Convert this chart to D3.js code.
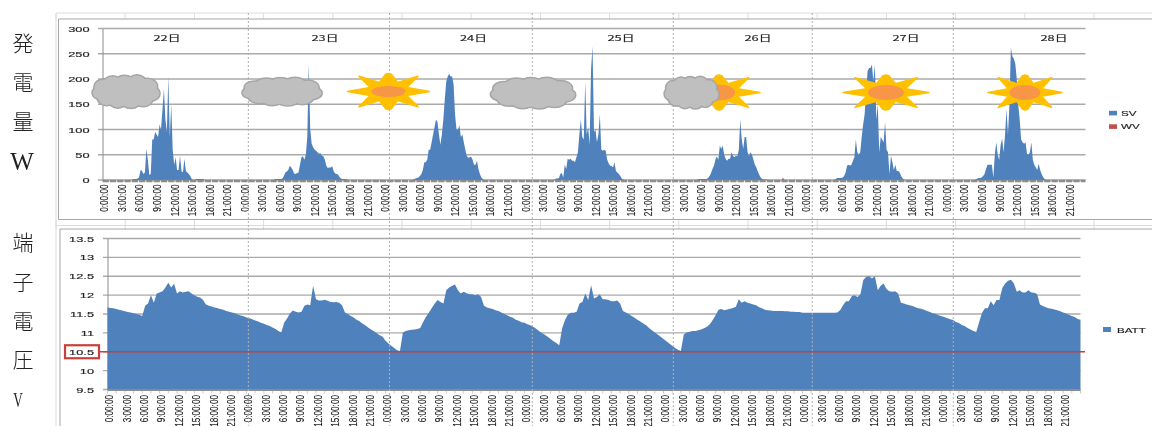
<!DOCTYPE html>
<html>
<head>
<meta charset="utf-8">
<script src="https://cdn.jsdelivr.net/npm/d3@7"></script>
<style>
  html, body { margin: 0; padding: 0; background: #fff; }
  svg { display: block; }
  text { font-family: "Liberation Sans", Arial, sans-serif; fill: #222; stroke: #222; stroke-width: 0.15px; }
  .side { font-family: "Noto Sans CJK JP", sans-serif; font-weight: 300; fill: #222; stroke: none; }
</style>
</head>
<body>
<div id="chart"></div>
<script>
// SV watts, one value every 15 minutes from 5:00 to 18:00, per day
var sv22 = [0,2,2,2,3,5,20,18,12,15,62,40,10,12,80,80,95,90,85,110,100,140,180,120,95,205,85,150,60,30,45,20,20,48,18,15,42,18,15,12,8,2,0,0,2,2,2,2,2,2,0,0,0];
var sv23 = [0,0,2,2,2,2,2,3,8,15,17,20,28,25,20,13,12,14,15,30,45,47,40,50,85,230,100,72,65,60,58,55,52,53,48,47,40,28,24,25,25,27,18,13,12,11,6,3,2,2,2,1,0];
var sv24 = [0,2,3,4,5,8,12,20,35,35,40,60,60,75,90,105,120,115,90,70,90,120,160,195,205,210,205,205,190,130,100,100,108,85,90,75,60,48,44,45,46,40,30,30,38,22,12,5,2,0,0,0,0];
var sv25 = [0,1,3,3,4,12,14,5,30,22,42,40,42,38,38,35,45,55,90,120,85,80,195,90,105,70,220,265,95,100,75,90,130,60,58,60,58,40,33,28,28,25,35,18,15,12,8,3,1,0,0,0,0];
var sv26 = [0,0,0,1,2,2,2,2,2,2,4,8,14,22,28,40,47,40,68,62,68,50,42,38,42,42,55,48,45,48,47,60,120,80,62,85,85,55,48,55,50,40,30,25,17,10,5,2,1,1,1,0,0];
var sv27 = [0,1,4,4,4,4,5,8,15,28,30,28,30,38,45,80,55,50,55,85,110,130,170,215,222,222,228,195,228,120,150,55,85,80,75,115,60,55,12,48,35,20,30,18,18,15,8,3,1,0,0,0,0];
var sv28 = [0,1,3,4,4,5,8,12,22,30,30,30,30,5,50,75,50,40,70,82,55,90,140,90,150,262,245,240,230,200,150,120,80,75,72,75,52,50,55,75,40,30,25,20,32,20,12,6,2,0,0,0,0];

// WV is almost always zero, only the few blips that show
var wvHours = [12.1, 57.7, 58.3, 59.5, 60.6, 62.1, 116.3];
var wvValues = [3, 3, 2, 3, 3, 3, 5];

// BATT volts, one value every 30 minutes, per day
var batt22 = [11.68,11.66,11.65,11.63,11.61,11.59,11.57,11.55,11.54,11.52,11.50,11.48,11.45,11.72,11.78,12.0,11.8,12.04,12.07,12.1,12.2,12.33,12.2,12.3,12.04,12.1,12.07,12.09,12.1,12.04,12.0,11.96,11.94,11.87,11.75,11.72,11.70,11.67,11.65,11.63,11.61,11.58,11.56,11.54,11.52,11.49,11.46,11.44];
var batt23 = [11.41,11.39,11.36,11.33,11.30,11.27,11.24,11.21,11.18,11.14,11.10,11.05,11.01,11.27,11.38,11.51,11.59,11.56,11.54,11.56,11.72,11.75,11.73,12.25,11.89,11.86,11.86,11.88,11.85,11.82,11.81,11.82,11.8,11.73,11.54,11.5,11.45,11.41,11.35,11.31,11.25,11.2,11.14,11.09,11.04,10.99,10.94,10.9];
var batt24 = [10.79,10.72,10.66,10.6,10.54,10.52,11.01,11.05,11.07,11.08,11.09,11.10,11.13,11.29,11.43,11.54,11.66,11.78,11.87,11.82,11.78,12.13,12.2,12.25,12.28,12.13,12.04,12.09,12.05,12.02,12.02,12.0,12.02,11.95,11.72,11.67,11.65,11.63,11.6,11.58,11.54,11.5,11.47,11.43,11.4,11.35,11.32,11.28];
var batt25 = [11.27,11.23,11.2,11.16,11.11,11.05,11.0,10.95,10.9,10.84,10.78,10.73,10.67,11.12,11.34,11.49,11.53,11.53,11.56,11.78,11.82,12.04,11.87,12.26,11.91,11.95,12.02,11.89,11.89,11.87,11.84,11.84,11.86,11.78,11.58,11.54,11.5,11.45,11.4,11.35,11.3,11.25,11.2,11.13,11.07,11.01,10.96,10.9];
var batt26 = [10.84,10.78,10.72,10.66,10.6,10.55,10.52,10.96,11.01,11.03,11.05,11.05,11.07,11.09,11.12,11.16,11.23,11.34,11.47,11.61,11.63,11.6,11.62,11.64,11.66,11.69,11.89,11.8,11.84,11.8,11.78,11.75,11.73,11.68,11.65,11.61,11.6,11.59,11.58,11.58,11.58,11.58,11.57,11.57,11.56,11.56,11.55,11.55];
var batt27 = [11.53,11.53,11.53,11.53,11.53,11.53,11.53,11.53,11.53,11.53,11.53,11.53,11.54,11.6,11.73,11.84,11.84,11.97,12.0,11.95,12.02,12.4,12.48,12.5,12.44,12.5,12.13,12.25,12.31,12.16,12.1,12.09,12.1,12.04,11.8,11.78,11.75,11.73,11.71,11.68,11.65,11.64,11.61,11.58,11.55,11.52,11.5,11.47];
var batt28 = [11.44,11.42,11.39,11.36,11.34,11.29,11.26,11.21,11.18,11.13,11.09,11.05,11.02,11.29,11.53,11.65,11.65,11.84,11.73,11.87,11.87,12.19,12.31,12.38,12.41,12.31,12.09,12.13,12.07,12.07,12.13,12.07,12.06,12.03,11.75,11.71,11.68,11.65,11.64,11.62,11.6,11.57,11.54,11.51,11.48,11.45,11.42,11.37,11.35];

var dayLabels = ["22日", "23日", "24日", "25日", "26日", "27日", "28日"];
var powerTicks = [0, 50, 100, 150, 200, 250, 300];
var voltTicks = [9.5, 10, 10.5, 11, 11.5, 12, 12.5, 13, 13.5];
var timeTicks = ["0:00:00", "3:00:00", "6:00:00", "9:00:00", "12:00:00", "15:00:00", "18:00:00", "21:00:00"];
var limitVolt = 10.5;
// hand drawn day separators, they don't sit exactly on midnight
var dayRuleHours = [24.93, 49.05, 73.45, 97.55, 121.3, 145.4];

var width = 1152, height = 426;
var blue = "#4f81bd", red = "#c0504d";

var svDays = [sv22, sv23, sv24, sv25, sv26, sv27, sv28];
var battDays = [batt22, batt23, batt24, batt25, batt26, batt27, batt28];

var svData = [];
svDays.forEach(function(vals, d) {
  vals.forEach(function(v, i) {
    svData.push({h: d * 24 + 5 + i * 0.25, v: v});
  });
});

var battData = [];
battDays.forEach(function(vals, d) {
  vals.forEach(function(v, i) {
    battData.push({h: d * 24 + i * 0.5, v: v});
  });
});

var wvData = [];
wvHours.forEach(function(h, i) {
  wvData.push({h: h - 0.2, v: 0}, {h: h, v: wvValues[i]}, {h: h + 0.2, v: 0});
});

var x1 = d3.scaleLinear().domain([0, 168]).range([102.5, 1085.5]);
var y1 = d3.scaleLinear().domain([0, 300]).range([180, 28.5]);
var x2 = d3.scaleLinear().domain([0, 168]).range([107.5, 1080.5]);
var y2 = d3.scaleLinear().domain([9.5, 13.5]).range([389.5, 238.5]);

var root = d3.select("#chart").append("svg")
    .attr("width", width)
    .attr("height", height);

// the source is a resampled screenshot, everything is a little soft
root.append("defs").append("filter")
    .attr("id", "soft")
    .attr("x", 0).attr("y", 0).attr("width", 1).attr("height", 1)
    .attr("filterUnits", "objectBoundingBox")
  .append("feGaussianBlur")
    .attr("stdDeviation", 0.35);

var svg = root.append("g").attr("filter", "url(#soft)");
svg.append("rect").attr("width", width).attr("height", height).attr("fill", "#fff");

// spreadsheet cells showing behind the two charts
var sheet = svg.append("g").attr("stroke", "#dcdcdc").attr("fill", "none");
[13, 225.5].forEach(function(y) {
  sheet.append("line").attr("x1", 56).attr("x2", width).attr("y1", y).attr("y2", y);
});
d3.range(56, width, 69.2).forEach(function(x) {
  sheet.append("line").attr("x1", x).attr("x2", x).attr("y1", 13).attr("y2", 19);
  sheet.append("line").attr("x1", x).attr("x2", x).attr("y1", 220).attr("y2", 229);
});
sheet.append("line").attr("x1", 56).attr("x2", 56).attr("y1", 13).attr("y2", height);

// chart frames
var frames = svg.append("g").attr("stroke", "#a6a6a6").attr("fill", "none");
frames.append("path").attr("d", "M" + width + ",19H58.5V219.5H" + width);
frames.append("path").attr("d", "M" + width + ",229H60V" + height);

function drawPlot(g, xs, ys, ticks, textEnd, labelTop) {
  g.append("g").selectAll("line").data(ticks).enter().append("line")
      .attr("x1", xs.range()[0] - 4.5)
      .attr("x2", xs.range()[1])
      .attr("y1", ys)
      .attr("y2", ys)
      .attr("stroke", "#aaa")
      .attr("stroke-width", 1.4);

  var yAxis = g.append("g")
      .attr("transform", "translate(" + xs.range()[0] + ",0)")
      .call(d3.axisLeft(ys).tickValues(ticks).tickFormat(function(d) { return d; }).tickSize(0));
  yAxis.select(".domain").attr("stroke", "#8c8c8c").attr("stroke-width", 1);
  yAxis.selectAll("text")
      .attr("x", 0)
      .attr("text-anchor", "end")
      .attr("transform", "translate(" + textEnd + ",0) scale(1.6,1)")
      .style("font-size", "8px");

  var hours = d3.range(0, 168, 3);
  var xAxis = g.append("g")
      .attr("transform", "translate(0," + ys.range()[0] + ")")
      .call(d3.axisBottom(xs).tickValues(hours)
        .tickFormat(function(h) { return timeTicks[(h % 24) / 3]; })
        .tickSize(0));
  xAxis.select(".domain").remove();
  xAxis.selectAll("text")
      .attr("x", 0)
      .attr("y", 0)
      .attr("dy", ".35em")
      .attr("text-anchor", "end")
      .attr("transform", "translate(1.8," + labelTop + ") rotate(-90) scale(0.82,1)")
      .style("font-size", "10px");
}

var topPlot = svg.append("g");
var bottomPlot = svg.append("g");

drawPlot(topPlot, x1, y1, powerTicks, -13, 4.5);
drawPlot(bottomPlot, x2, y2, voltTicks, -13.5, 5.5);

var areaTop = d3.area()
    .x(function(d) { return x1(d.h); })
    .y0(y1(0))
    .y1(function(d) { return y1(d.v); });

topPlot.append("path").datum(svData)
    .attr("d", areaTop)
    .attr("fill", blue);

topPlot.append("path").datum(wvData)
    .attr("d", areaTop)
    .attr("fill", red);

// thick gray baseline, the tick marks make it look dashed
topPlot.append("line")
    .attr("x1", x1.range()[0]).attr("x2", x1.range()[1])
    .attr("y1", y1(0) + 1).attr("y2", y1(0) + 1)
    .attr("stroke", "#8c8c8c")
    .attr("stroke-width", 2.6)
    .attr("stroke-dasharray", "6.3 1");

var areaBottom = d3.area()
    .x(function(d) { return x2(d.h); })
    .y0(y2(9.5))
    .y1(function(d) { return y2(d.v); });

bottomPlot.append("path").datum(battData)
    .attr("d", areaBottom)
    .attr("fill", blue);

bottomPlot.append("line")
    .attr("x1", x2.range()[0]).attr("x2", x2.range()[1])
    .attr("y1", y2(9.5) + 0.5).attr("y2", y2(9.5) + 0.5)
    .attr("stroke", "#8c8c8c")
    .attr("stroke-width", 2);

bottomPlot.append("g").selectAll("line").data(d3.range(0, 168.1, 1.5)).enter().append("line")
    .attr("x1", x2).attr("x2", x2)
    .attr("y1", y2(9.5) + 1).attr("y2", y2(9.5) + 4)
    .attr("stroke", "#a6a6a6")
    .attr("stroke-width", 0.6);

// red limit line and the box round its tick label
bottomPlot.append("line")
    .attr("x1", 99).attr("x2", 1085)
    .attr("y1", y2(limitVolt)).attr("y2", y2(limitVolt))
    .attr("stroke", "#c8403c")
    .attr("stroke-width", 1.5);
bottomPlot.append("rect")
    .attr("x", 65).attr("y", y2(limitVolt) - 6.5)
    .attr("width", 34).attr("height", 13)
    .attr("fill", "none")
    .attr("stroke", "#c8403c")
    .attr("stroke-width", 2.2);

// day separators run down through both charts
svg.append("g").selectAll("line").data(dayRuleHours).enter().append("line")
    .attr("x1", x1).attr("x2", x1)
    .attr("y1", 13).attr("y2", height)
    .attr("stroke", "#b0b0b0")
    .attr("stroke-dasharray", "2 2");

// day labels
var dayLabelX = [167, 325, 473.5, 621, 758, 906, 1054];
topPlot.append("g").selectAll("text").data(dayLabels).enter().append("text")
    .attr("transform", function(d, i) { return "translate(" + dayLabelX[i] + ",40.5) scale(1.6,1)"; })
    .attr("text-anchor", "middle")
    .style("font-family", "'Noto Sans CJK JP', sans-serif")
    .style("font-size", "8px")
    .text(function(d) { return d; });

// weather stickers pasted on top of the chart
var weather = svg.append("g");

// puffs of a cloud in unit coordinates, [dx, dy, r]
var cloudPuffs = [[-.7,-.28,.42],[-.4,-.45,.46],[-.05,-.5,.44],[.33,-.5,.46],[.66,-.3,.46],[.76,.12,.42],[.52,.42,.46],[.15,.5,.48],[-.25,.52,.44],[-.58,.35,.46],[-.78,.08,.38],[0,0,.9],[.42,0,.8],[-.42,0,.8]];
var sunPoints = [[1,0],[.45,-.22],[.72,-.85],[.22,-.5],[.07,-.96],[0,-1],[-.07,-.96],[-.22,-.5],[-.72,-.85],[-.45,-.22],[-1,0],[-.45,.22],[-.72,.85],[-.22,.5],[-.07,.96],[0,1],[.07,.96],[.22,.5],[.72,.85],[.45,.22]];

function drawCloud(cx, cy, rx, ry) {
  var cloud = weather.append("g").attr("transform", "translate(" + cx + "," + cy + ")");
  // gray outline first, then the same puffs filled on top of it
  [["#a6a6a6", 3], ["#bfbfbf", 0]].forEach(function(layer) {
    cloud.append("g").selectAll("ellipse").data(cloudPuffs).enter().append("ellipse")
        .attr("cx", function(d) { return d[0] * rx; })
        .attr("cy", function(d) { return d[1] * ry; })
        .attr("rx", function(d) { return d[2] * rx * 0.6; })
        .attr("ry", function(d) { return d[2] * ry * 0.95; })
        .attr("fill", layer[0])
        .attr("stroke", layer[0])
        .attr("stroke-width", layer[1]);
  });
}

function drawSun(cx, cy, rx, ry, crx, cry) {
  var pts = sunPoints.map(function(p) { return [cx + p[0] * rx, cy + p[1] * ry]; });
  weather.append("path")
      .attr("d", d3.line().curve(d3.curveLinearClosed)(pts))
      .attr("fill", "#ffc000")
      .attr("stroke", "#ffc000")
      .attr("stroke-width", 1.5)
      .attr("stroke-linejoin", "round");
  weather.append("ellipse")
      .attr("cx", cx).attr("cy", cy)
      .attr("rx", crx).attr("ry", cry)
      .attr("fill", "#f79646");
}

drawSun(388.5, 91.5, 41, 18, 17, 5.5);
drawSun(719, 92.5, 41, 17.5, 16, 8);
drawSun(886, 92.5, 43, 17.5, 18, 7.5);
drawSun(1025, 92.5, 37, 17.5, 15.5, 7.5);
drawCloud(126, 91.5, 33, 17);
drawCloud(282, 91.5, 39, 14.5);
drawCloud(533, 93, 41.5, 16);
drawCloud(691.5, 92.5, 26.5, 16.5);

// legends
var legends = svg.append("g");
[["SV", blue, 113], ["WV", red, 126.5]].forEach(function(d) {
  legends.append("rect").attr("x", 1109).attr("y", d[2] - 2.2).attr("width", 8).attr("height", 4.6).attr("fill", d[1]);
  legends.append("text")
      .attr("transform", "translate(1121," + (d[2] + 2.8) + ") scale(1.45,1)")
      .style("font-size", "8px")
      .text(d[0]);
});
legends.append("rect").attr("x", 1103).attr("y", 327).attr("width", 8).attr("height", 5).attr("fill", blue);
legends.append("text")
    .attr("transform", "translate(1117,332.5) scale(1.45,1)")
    .style("font-size", "8px")
    .text("BATT");

// hand typed side titles, written downwards
var sideTitles = [["発", 44], ["電", 83], ["量", 122], ["端", 243], ["子", 283], ["電", 322], ["圧", 360]];
svg.append("g").selectAll("text").data(sideTitles).enter().append("text")
    .attr("class", "side")
    .attr("x", 23)
    .attr("y", function(d) { return d[1] + 7; })
    .attr("text-anchor", "middle")
    .style("font-size", "21px")
    .text(function(d) { return d[0]; });

svg.append("text")
    .attr("x", 22).attr("y", 170)
    .attr("text-anchor", "middle")
    .style("font-family", "'Liberation Serif', serif")
    .style("font-size", "25px")
    .style("stroke", "none")
    .text("W");
svg.append("text")
    .attr("transform", "translate(18,407) scale(0.6,1)")
    .attr("text-anchor", "middle")
    .style("font-family", "'Liberation Serif', serif")
    .style("font-size", "22px")
    .style("stroke", "none")
    .text("V");
</script>
</body>
</html>
